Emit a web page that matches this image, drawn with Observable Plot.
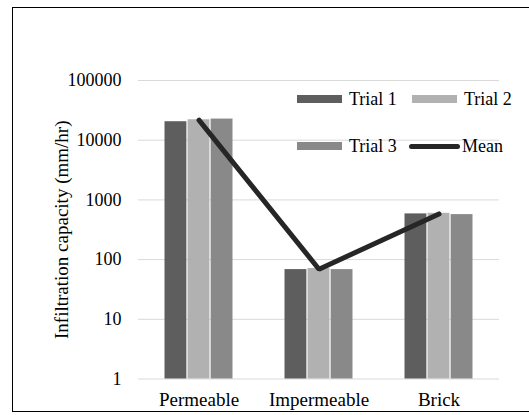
<!DOCTYPE html>
<html>
<head>
<meta charset="utf-8">
<script src="https://cdn.jsdelivr.net/npm/d3@7"></script>
<script src="https://cdn.jsdelivr.net/npm/@observablehq/plot@0.6"></script>
<style>
  body { margin: 0; background: #fff; }
  #wrap { position: relative; width: 529px; height: 415px; overflow: hidden; font-family: "Liberation Serif", serif; }
  #frame { position: absolute; left: 12px; top: 7px; width: 530px; height: 405px; border: 1px solid #000; box-sizing: border-box; pointer-events: none; }
  #chart { position: absolute; left: 0; top: 0; }
  .leg { position: absolute; display: flex; align-items: center; font-family: "Liberation Serif", serif; font-size: 18px; color: #000; white-space: nowrap; }
  .sw { display: inline-block; width: 45px; height: 8px; margin-right: 7px; }
  .swl { display: inline-block; width: 51px; height: 5px; border-radius: 3px; margin-right: 2px; }
</style>
</head>
<body>
<div id="wrap">
  <div id="chart"></div>
  <div id="frame"></div>
</div>
<script>
const categories = ["Permeable", "Impermeable", "Brick"];
const trials = ["Trial 1", "Trial 2", "Trial 3"];
const trial1 = [20400, 68, 583];
const trial2 = [22000, 71, 596];
const trial3 = [22600, 68, 567];
const meanValues = [21700, 69, 582];
const yTicks = [1, 10, 100, 1000, 10000, 100000];
const trialColors = ["#5e5e5e", "#b1b1b1", "#898989"];
const meanColor = "#262626";

const W = 529, H = 415;
const ml = 138, mr = 30, mt = 80, mb = 36.5;
const padIn = 0.425, padOut = 0.2125;
const serif = '"Liberation Serif", serif';

const series = [trial1, trial2, trial3];
const barData = [];
series.forEach((vals, i) => vals.forEach((v, j) => barData.push({cat: categories[j], trial: trials[i], ti: i, value: v})));
const meanData = categories.map((c, j) => ({cat: c, value: meanValues[j]}));

const step = (W - ml - mr) / (categories.length - padIn + 2 * padOut);
const bw = step * (1 - padIn);
const sub = bw / trials.length;

const barMarks = trials.map((t, i) => Plot.barY(barData.filter(d => d.ti === i), {
  x: "cat", y1: 1, y2: "value", fill: trialColors[i],
  insetLeft: i * sub + 0.5, insetRight: (trials.length - 1 - i) * sub + 0.5
}));

const chart = Plot.plot({
  width: W, height: H,
  marginLeft: ml, marginRight: mr, marginTop: mt, marginBottom: mb,
  style: {fontFamily: serif, background: "transparent", color: "#000"},
  x: {domain: categories, paddingInner: padIn, paddingOuter: padOut, label: null},
  y: {type: "log", domain: [1, 100000], label: null},
  marks: [
    Plot.gridY(yTicks, {stroke: "#d9d9d9", strokeOpacity: 1, strokeWidth: 1}),
    ...barMarks,
    Plot.lineY(meanData, {x: "cat", y: "value", stroke: meanColor, strokeWidth: 5, strokeLinecap: "round", strokeLinejoin: "miter"}),
    Plot.axisY(yTicks, {tickSize: 0, tickPadding: 17, tickFormat: d => String(d), fontSize: 18, fontFamily: serif,
      label: "Infiltration capacity (mm/hr)", labelAnchor: "center", labelOffset: 84, labelArrow: "none"}),
    Plot.axisX({tickSize: 0, tickPadding: 13, fontSize: 19, fontFamily: serif, label: null})
  ]
});
document.getElementById("chart").appendChild(chart);
chart.querySelectorAll("g[aria-label='y-axis label'] text").forEach(t => t.style.fontSize = "19px");

// legend
const wrap = document.getElementById("wrap");
const legItems = [
  {label: trials[0], color: trialColors[0], x: 297, y: 99, line: false},
  {label: trials[1], color: trialColors[1], x: 412, y: 99, line: false},
  {label: trials[2], color: trialColors[2], x: 297, y: 146, line: false},
  {label: "Mean", color: meanColor, x: 409, y: 146, line: true}
];
legItems.forEach(it => {
  const d = document.createElement("div");
  d.className = "leg";
  d.style.left = it.x + "px";
  d.style.top = (it.y - 11) + "px";
  d.style.height = "22px";
  const s = document.createElement("span");
  s.className = it.line ? "swl" : "sw";
  s.style.background = it.color;
  d.appendChild(s);
  d.appendChild(document.createTextNode(it.label));
  wrap.appendChild(d);
});
</script>
</body>
</html>
